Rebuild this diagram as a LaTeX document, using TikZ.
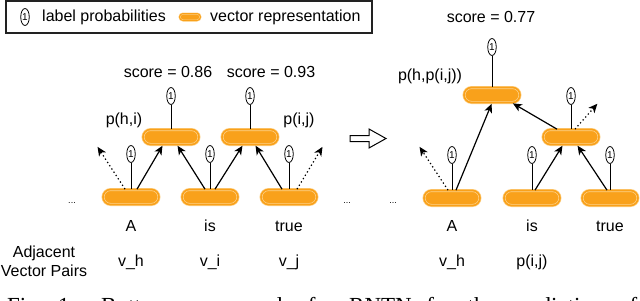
\documentclass[tikz,border=0pt]{standalone}
\usepackage{fontspec}
\setmainfont{Liberation Sans}
\newfontfamily\capfont{Liberation Serif}
\usetikzlibrary{arrows.meta,shapes.geometric}
\definecolor{vecfill}{HTML}{F9A11B}
\definecolor{vecring}{HTML}{FDD28A}
\definecolor{boxline}{HTML}{222222}
\begin{document}
\begin{tikzpicture}[x=1pt,y=-1pt,
  vec/.style={rectangle, rounded corners=7.5pt, minimum width=56pt, minimum height=15pt, inner sep=0pt,
    fill=vecfill, draw=vecring, double=vecfill, line width=0.7pt, double distance=1.6pt},
  vecsmall/.style={vec, rounded corners=3.5pt, minimum width=21pt, minimum height=7pt, line width=0.5pt, double distance=1pt},
  lab/.style={ellipse, draw, line width=0.8pt, fill=white, minimum width=8.5pt, minimum height=17pt, inner sep=0pt,
    font=\fontsize{10}{10}\selectfont},
  lin/.style={line width=1pt},
  arr/.style={-{Stealth[length=9pt,width=8pt,inset=2.5pt]}, line width=1.2pt, shorten >=1pt},
  dotarr/.style={arr, dash pattern=on 1.3pt off 2.6pt},
  txt/.style={inner sep=0pt, font=\fontsize{16}{16}\selectfont, text height=11.5pt, text depth=3.4pt},
  dots/.style={inner sep=0pt, font=\fontsize{9}{9}\selectfont}
]
\useasboundingbox (0,0) rectangle (640,300);
\clip (0,0) rectangle (640,300);

% legend
\node[draw=boxline, line width=1.4pt, minimum width=366pt, minimum height=32pt, inner sep=0pt] (legend) at (189,17) {};
\node[lab] (leglab) at (25,17) {1};
\node[txt, anchor=west] (legt1) at (42,17) {label probabilities};
\node[vecsmall] (legvec) at (190,17) {};
\node[txt, anchor=west] (legt2) at (210,17) {vector representation};

% ---------------- left tree ----------------
\node[vec] (A) at (131,197) {};
\node[vec] (is) at (210,197) {};
\node[vec] (tr) at (289,197) {};
\node[vec] (hi) at (171,137) {};
\node[vec] (ij) at (250,137) {};

\node[lab] (lA) at (131,154) {1};
\node[lab] (lis) at (210,154) {1};
\node[lab] (ltr) at (289,154) {1};
\node[lab] (lhi) at (171,96) {1};
\node[lab] (lij) at (250,96) {1};

\draw[lin] (A) -- (lA);
\draw[lin] (is) -- (lis);
\draw[lin] (tr) -- (ltr);
\draw[lin] (hi) -- (lhi);
\draw[lin] (ij) -- (lij);

\draw[arr] ([xshift=6pt]A.north) -- ([xshift=-8pt]hi.south);
\draw[arr] ([xshift=-5pt]is.north) -- ([xshift=6pt]hi.south);
\draw[arr] ([xshift=5pt]is.north) -- ([xshift=-7pt]ij.south);
\draw[arr] ([xshift=-7pt]tr.north) -- ([xshift=5pt]ij.south);
\coordinate (dl) at (97,146);
\coordinate (dr) at (323,146);
\draw[dotarr] ([xshift=-6pt]A.north) -- (dl);
\draw[dotarr] ([xshift=8pt]tr.north) -- (dr);

\node[txt] (s1) at (168,73) {score = 0.86};
\node[txt] (s2) at (271,73) {score = 0.93};
\node[txt] (phi) at (124,120) {p(h,i)};
\node[txt] (pij) at (299,120) {p(i,j)};

\node[dots] (d1) at (72,203) {...};
\node[dots] (d2) at (347,203) {...};
\node[dots] (d3) at (393,203) {...};

\node[txt] (wA) at (131,227) {A};
\node[txt] (wis) at (210,227) {is};
\node[txt] (wtr) at (289,227) {true};
\node[txt] (vh) at (131,262) {v\_h};
\node[txt] (vi) at (210,262) {v\_i};
\node[txt] (vj) at (289,262) {v\_j};
\node[txt] (adj) at (44,253) {Adjacent};
\node[txt] (vp) at (44,272) {Vector Pairs};

% transition arrow
\draw[line width=1pt, fill=white] (350,135.5) -- (369,135.5) -- (369,129) -- (386,138.5) -- (369,148) -- (369,141.5) -- (350,141.5) -- cycle;

% ---------------- right tree ----------------
\node[vec] (A2) at (452,198) {};
\node[vec] (is2) at (532,198) {};
\node[vec] (tr2) at (610,198) {};
\node[vec] (mid) at (571,137) {};
\node[vec] (top) at (492,95) {};

\node[lab] (lA2) at (452,155) {1};
\node[lab] (lis2) at (532,155) {1};
\node[lab] (ltr2) at (610,155) {1};
\node[lab] (lmid) at (571,96) {1};
\node[lab] (ltop) at (492,47) {1};

\draw[lin] (A2) -- (lA2);
\draw[lin] (is2) -- (lis2);
\draw[lin] (tr2) -- (ltr2);
\draw[lin] (mid) -- (lmid);
\draw[lin] (top) -- (ltop);

\draw[arr] ([xshift=4pt]A2.north) -- ([xshift=0pt]top.south);
\draw[arr] ([xshift=-14pt]mid.north) -- ([xshift=20pt]top.south);
\draw[arr] ([xshift=3pt]is2.north) -- ([xshift=-8pt]mid.south);
\draw[arr] ([xshift=-3pt]tr2.north) -- ([xshift=6pt]mid.south);
\coordinate (dl2) at (419,146);
\coordinate (dm2) at (598,103);
\draw[dotarr] ([xshift=-4pt]A2.north) -- (dl2);
\draw[dotarr] ([xshift=4pt]mid.north) -- (dm2);

\node[txt] (s3) at (491,18) {score = 0.77};
\node[txt] (phpij) at (430,76) {p(h,p(i,j))};

\node[txt] (wA2) at (452,227) {A};
\node[txt] (wis2) at (532,227) {is};
\node[txt] (wtr2) at (610,227) {true};
\node[txt] (vh2) at (452,262) {v\_h};
\node[txt] (pij2) at (532,262) {p(i,j)};

% caption (cut off at the bottom, as in the reference)
\node[anchor=base west, inner sep=0pt] (cap) at (7,313)
  {\capfont\fontsize{23}{23}\selectfont\hbox to 630pt{Fig.~1: Bottom-up example for RNTN for the prediction of}};
\end{tikzpicture}
\end{document}
